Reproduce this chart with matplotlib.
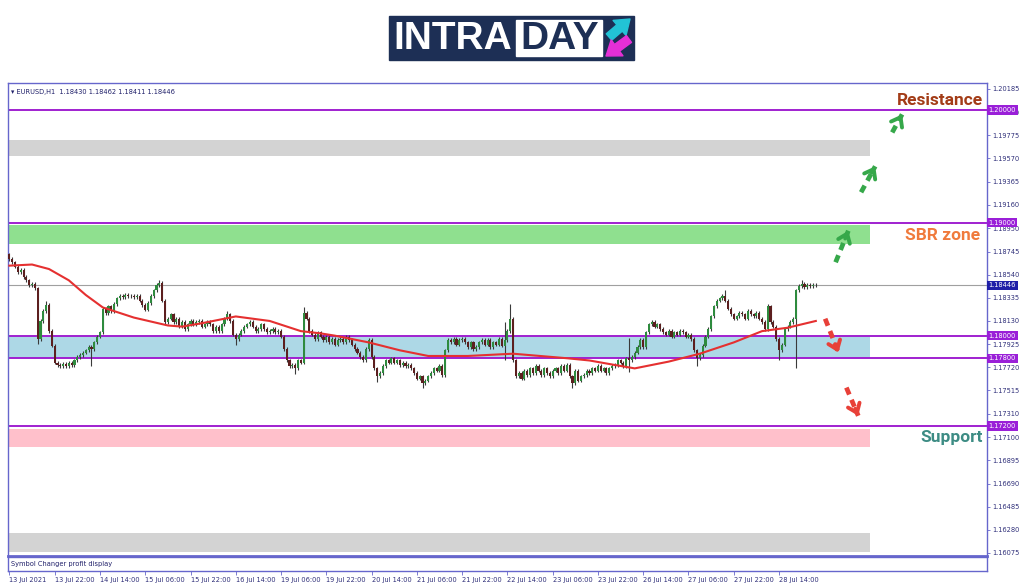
import matplotlib
matplotlib.use("Agg")
import matplotlib.pyplot as plt
from matplotlib.patches import Rectangle
from matplotlib import transforms
import numpy as np

# ---- data (EURUSD H1, 13-28 Jul 2021) ----
closes = [
    1.1868, 1.1865, 1.1861, 1.1856, 1.1858, 1.1852, 1.1849, 1.1845, 1.1846, 1.1842,
    1.1797, 1.1813, 1.1822, 1.1827, 1.1804, 1.1791, 1.1776,
    1.1774, 1.1773, 1.1775, 1.1773, 1.1776, 1.1774, 1.1778,
    1.1781, 1.1783, 1.1785, 1.1787, 1.1790, 1.1788, 1.1794, 1.1799, 1.1803,
    1.1824, 1.1820, 1.1826, 1.1822, 1.1828, 1.1833,
    1.1835, 1.1834, 1.1836, 1.1835, 1.1835, 1.1834, 1.1835, 1.1831,
    1.1827, 1.1823, 1.1829, 1.1835, 1.1840, 1.1845, 1.1847, 1.1831, 1.1812,
    1.1815, 1.1819, 1.1812, 1.1815, 1.1808, 1.1812, 1.1806, 1.1810, 1.1813, 1.1810,
    1.1812, 1.1813, 1.1808, 1.1810, 1.1812,
    1.1810, 1.1804, 1.1808, 1.1804, 1.1810, 1.1815, 1.1819, 1.1813, 1.1801, 1.1797,
    1.1801, 1.1804, 1.1808, 1.1810, 1.1812, 1.1808, 1.1804, 1.1806, 1.1810, 1.1806,
    1.1803, 1.1804, 1.1806, 1.1803, 1.1804,
    1.1799, 1.1788, 1.1778, 1.1773, 1.1774, 1.1771, 1.1778, 1.1776, 1.1820, 1.1815,
    1.1804, 1.1801, 1.1797, 1.1803, 1.1799, 1.1796, 1.1799, 1.1794, 1.1797, 1.1792,
    1.1796, 1.1797, 1.1794, 1.1799, 1.1796, 1.1792,
    1.1788, 1.1785, 1.1781, 1.1778, 1.1788, 1.1796, 1.1781, 1.1771, 1.1764, 1.1767,
    1.1773, 1.1778, 1.1776, 1.1780, 1.1776, 1.1778, 1.1774, 1.1776, 1.1773, 1.1774, 1.1771,
    1.1767, 1.1762, 1.1764, 1.1758, 1.1760, 1.1764, 1.1767, 1.1771, 1.1769, 1.1773,
    1.1765, 1.1787, 1.1796, 1.1794,
    1.1797, 1.1792, 1.1796, 1.1797, 1.1794, 1.1790, 1.1794, 1.1788, 1.1790, 1.1794,
    1.1796, 1.1792, 1.1796, 1.1790, 1.1794,
    1.1792, 1.1797, 1.1791, 1.1796, 1.1804, 1.1815, 1.1778, 1.1764, 1.1767,
    1.1762, 1.1769, 1.1765, 1.1771, 1.1767, 1.1773, 1.1769, 1.1765, 1.1771, 1.1767,
    1.1764, 1.1769, 1.1771, 1.1767, 1.1773, 1.1769,
    1.1774, 1.1764, 1.1758, 1.1769, 1.1760, 1.1764, 1.1765, 1.1769, 1.1767, 1.1771,
    1.1769, 1.1773, 1.1769, 1.1771, 1.1767, 1.1771, 1.1773,
    1.1774, 1.1778, 1.1776, 1.1773, 1.1780, 1.1778, 1.1781, 1.1785, 1.1790, 1.1796,
    1.1790, 1.1803,
    1.1810, 1.1812, 1.1808, 1.1810, 1.1806, 1.1803, 1.1801, 1.1804, 1.1799, 1.1803,
    1.1801, 1.1804, 1.1803, 1.1799, 1.1801, 1.1797,
    1.1787, 1.1780, 1.1783, 1.1791, 1.1799, 1.1806, 1.1817, 1.1826, 1.1831, 1.1833,
    1.1835, 1.1831, 1.1824, 1.1819,
    1.1815, 1.1817, 1.1820, 1.1819, 1.1815, 1.1822, 1.1819, 1.1817, 1.1820, 1.1815,
    1.1812, 1.1806,
    1.1826, 1.1812, 1.1808, 1.1797, 1.1787, 1.1792, 1.1806, 1.1808, 1.1812, 1.1815,
    1.1840, 1.1844, 1.1846, 1.1843, 1.1845, 1.1844, 1.1845, 1.18446,
]
first_open = 1.1872
# long wicks that stand out
wick_hi = {0: 1.1873, 13: 1.1831, 53: 1.1849, 77: 1.1822, 104: 1.1825, 175: 1.1812,
           177: 1.1828, 219: 1.1798, 253: 1.1840, 268: 1.1828, 280: 1.1849}
wick_lo = {10: 1.1793, 29: 1.1773, 80: 1.1792, 101: 1.1766, 130: 1.1759, 146: 1.1754,
           175: 1.1778, 199: 1.1754, 219: 1.1768, 243: 1.1773, 272: 1.1778, 278: 1.1771}

# moving average (red line), knots at bar index
ma_bars = [0, 8, 14, 21, 27, 33, 44, 56, 61, 68, 80, 92, 103, 110, 115, 127, 138, 148,
           162, 178, 197, 205, 214, 221, 233, 244, 256, 266, 275, 285]
ma_vals = [1.1862, 1.1863, 1.1859, 1.1849, 1.1836, 1.1825, 1.1816, 1.1809, 1.1808, 1.1811,
           1.1817, 1.1813, 1.1804, 1.1802, 1.1800, 1.1794, 1.1787, 1.1782, 1.1782, 1.1784,
           1.1780, 1.1778, 1.1774, 1.1771, 1.1777, 1.1784, 1.1794, 1.1804, 1.1807, 1.1813]

level_lines = [1.20000, 1.19000, 1.18000, 1.17800, 1.17200]
last_price = 1.18446
zones = [(1.19591, 1.19733, "#d3d3d3"),
         (1.18812, 1.18980, "#8fe08f"),
         (1.17800, 1.18000, "#add8e6"),
         (1.17014, 1.17173, "#ffc0cb"),
         (1.16084, 1.16252, "#d3d3d3")]

price_ticks = [1.20185, 1.19980, 1.19775, 1.19570, 1.19365, 1.19160, 1.18950, 1.18745,
               1.18540, 1.18335, 1.18130, 1.17925, 1.17720, 1.17515, 1.17310, 1.17100,
               1.16895, 1.16690, 1.16485, 1.16280, 1.16075]
date_labels = ["13 Jul 2021", "13 Jul 22:00", "14 Jul 14:00", "15 Jul 06:00", "15 Jul 22:00",
               "16 Jul 14:00", "19 Jul 06:00", "19 Jul 22:00", "20 Jul 14:00", "21 Jul 06:00",
               "21 Jul 22:00", "22 Jul 14:00", "23 Jul 06:00", "23 Jul 22:00", "26 Jul 14:00",
               "27 Jul 06:00", "27 Jul 22:00", "28 Jul 14:00"]
date_bars = [16 * k for k in range(len(date_labels))]

up_arrows = [((292, 1.1865), (296.5, 1.1893)),
             ((301, 1.1927), (306, 1.1950)),
             ((312, 1.1980), (315.5, 1.1996))]
down_arrows = [((288.3, 1.1815), (293, 1.1785)),
               ((295.8, 1.1754), (300, 1.1729))]

# ---- figure ----
W, H = 1024, 587
fig = plt.figure(figsize=(W / 100, H / 100), dpi=100)
fig.patch.set_facecolor("white")

# pixel-space overlay for the logo
bg = fig.add_axes([0, 0, 1, 1])
bg.set_xlim(0, W)
bg.set_ylim(H, 0)
bg.axis("off")
navy = "#1d2f55"
bg.add_patch(Rectangle((389, 16), 245, 44, color=navy))
bg.add_patch(Rectangle((516, 20), 86, 36, color="white"))
bg.text(393, 39, "INTRA", color="white", fontsize=28, fontweight="bold",
        family="Liberation Sans", va="center", ha="left")
bg.text(520, 39, "DAY", color=navy, fontsize=28, fontweight="bold",
        family="Liberation Sans", va="center", ha="left")
arrow_style = "simple,head_width=1.3,head_length=0.9,tail_width=0.55"
bg.annotate("", xy=(630, 19), xytext=(609, 37),
            arrowprops=dict(arrowstyle=arrow_style, color="#22c3d6",
                            mutation_scale=11, shrinkA=0, shrinkB=0))
bg.annotate("", xy=(606, 56), xytext=(629, 39),
            arrowprops=dict(arrowstyle=arrow_style, color="#e52fd6",
                            mutation_scale=11, shrinkA=0, shrinkB=0))

frame = "#6666cc"
ax = fig.add_axes([8 / W, 1 - 556 / H, 979 / W, 473 / H])
sub = fig.add_axes([8 / W, 1 - 571 / H, 979 / W, 14 / H])

xmax = 345.5
ax.set_xlim(-0.5, xmax)
ax.set_ylim(1.16048, 1.20238)
sub.set_xlim(-0.5, xmax)
sub.set_ylim(0, 1)

for z0, z1, col in zones:
    ax.add_patch(Rectangle((-0.5, z0), 304.5, z1 - z0, color=col, lw=0, zorder=1))

for lv in level_lines:
    ax.axhline(lv, color="#a020d0", lw=1.4, zorder=2)
ax.axhline(last_price, color="#a0a0a0", lw=0.8, zorder=2)

# candles
closes_a = np.array(closes)
opens_a = np.concatenate([[first_open], closes_a[:-1]])
idx = np.arange(len(closes_a))
top = np.maximum(opens_a, closes_a)
bot = np.minimum(opens_a, closes_a)
highs = top + 0.00015
lows = bot - 0.00015
for k, v in wick_hi.items():
    highs[k] = v
for k, v in wick_lo.items():
    lows[k] = v
ax.vlines(idx, lows, highs, color="#3a3a3a", lw=0.8, zorder=3)
bull = closes_a >= opens_a
body_h = np.maximum(top - bot, 0.00004)
ax.bar(idx[bull], body_h[bull], bottom=bot[bull], width=0.75, color="#2e8b3e", lw=0, zorder=4)
ax.bar(idx[~bull], body_h[~bull], bottom=bot[~bull], width=0.75, color="#5c1f1f", lw=0, zorder=4)

ax.plot(ma_bars, ma_vals, color="#e53030", lw=1.5, zorder=5)

# forecast arrows
for (p0, p1), col in [(a, "#36a84a") for a in up_arrows] + [(a, "#e84038") for a in down_arrows]:
    ax.plot([p0[0], p1[0]], [p0[1], p1[1]], color=col, lw=3.4, ls=(0, (1.6, 1.2)),
            solid_capstyle="butt", zorder=6)
    dx, dy = p1[0] - p0[0], p1[1] - p0[1]
    ax.annotate("", xy=p1, xytext=(p1[0] - 0.25 * dx, p1[1] - 0.25 * dy),
                arrowprops=dict(arrowstyle="->,head_width=0.45,head_length=0.6",
                                color=col, lw=2.8, shrinkA=0, shrinkB=0), zorder=6)

# labels on the chart
ax.text(344.0, 1.20079, "Resistance", color="#a33c17", fontsize=12.5, fontweight="bold",
        family="Roboto", ha="right", va="center", zorder=7)
ax.text(343.0, 1.18885, "SBR zone", color="#f07a3c", fontsize=12.5, fontweight="bold",
        family="Roboto", ha="right", va="center", zorder=7)
ax.text(344.0, 1.17094, "Support", color="#3d8c84", fontsize=12.5, fontweight="bold",
        family="Roboto", ha="right", va="center", zorder=7)

ax.text(0.003, 0.988, "\u25be EURUSD,H1  1.18430 1.18462 1.18411 1.18446",
        transform=ax.transAxes, fontsize=4.8, color="#20206a", ha="left", va="top")
sub.text(0.003, 0.5, "Symbol Changer profit display", transform=sub.transAxes,
         fontsize=4.8, color="#20206a", ha="left", va="center")

# price axis on the right
ax.yaxis.tick_right()
ax.set_yticks(price_ticks)
ax.set_yticklabels([f"{p:.5f}" for p in price_ticks])
ax.tick_params(axis="y", length=2.5, width=0.6, pad=1.5, labelsize=4.8,
               colors=frame, labelcolor="#30307a")
ax.set_xticks([])
trans = transforms.blended_transform_factory(ax.transAxes, ax.transData)
for lv in level_lines:
    ax.text(1.0015, lv, f"{lv:.5f}", transform=trans, fontsize=4.8, color="white",
            ha="left", va="center", zorder=8, clip_on=False,
            bbox=dict(boxstyle="square,pad=0.25", fc="#9a1fd8", ec="none"))
ax.text(1.0015, last_price, f"{last_price:.5f}", transform=trans, fontsize=4.8,
        color="white", ha="left", va="center", zorder=8, clip_on=False,
        bbox=dict(boxstyle="square,pad=0.25", fc="#1f1fa8", ec="none"))

sub.set_yticks([])
sub.set_xticks(date_bars)
sub.set_xticklabels(date_labels, ha="left")
sub.tick_params(axis="x", length=3, width=0.6, pad=1.5, labelsize=4.8,
                colors=frame, labelcolor="#30307a")

for a in (ax, sub):
    for s in a.spines.values():
        s.set_color(frame)
        s.set_linewidth(1.0)
ax.spines["bottom"].set_linewidth(2.0)

fig.savefig("out.png", dpi=100)
